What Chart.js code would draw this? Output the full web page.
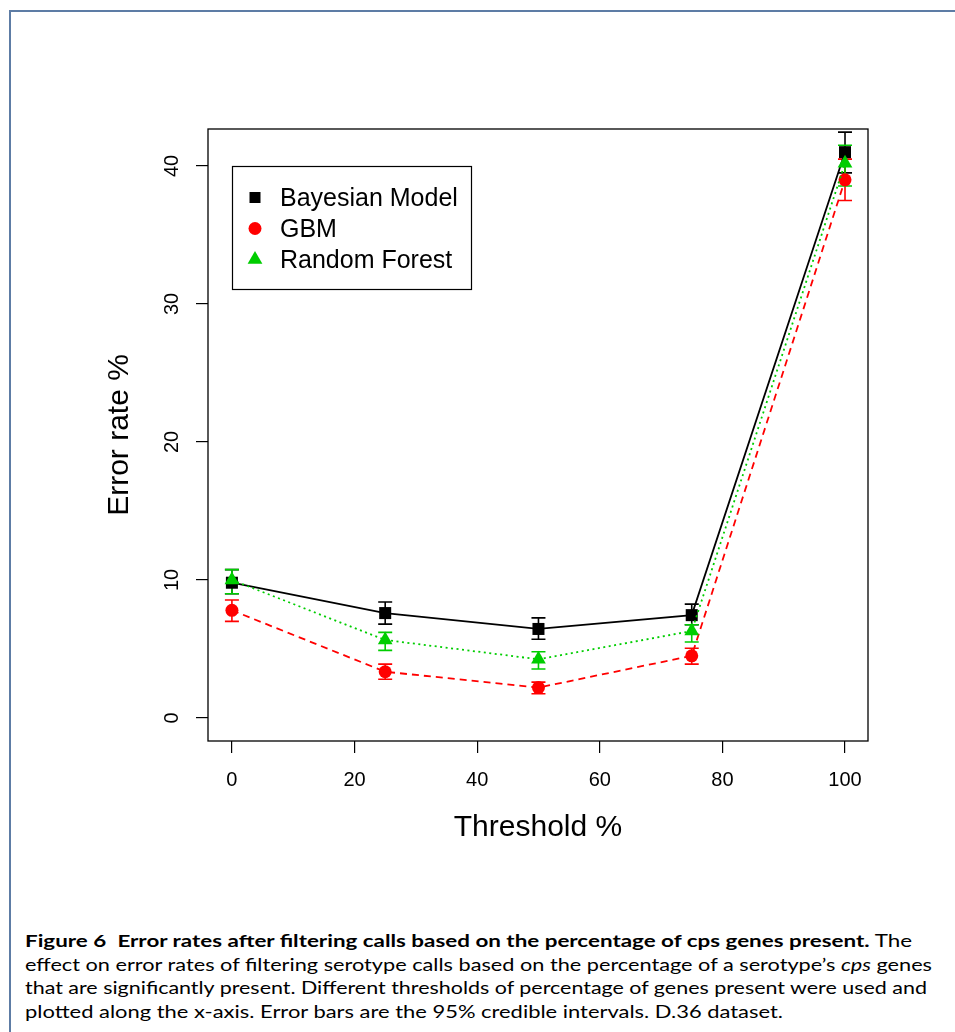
<!DOCTYPE html>
<html>
<head>
<meta charset="utf-8">
<script src="https://cdn.jsdelivr.net/npm/chart.js@4.4.1/dist/chart.umd.min.js"></script>
<style>
  html, body { margin: 0; padding: 0; background: #fff; }
  body { width: 955px; height: 1032px; position: relative; overflow: hidden; }
  #frame {
    position: absolute; left: 9px; top: 10px; width: 1000px; height: 1100px;
    border-left: 2px solid #5d7ca5; border-top: 2px solid #5d7ca5;
  }
  #wrap { position: absolute; left: 0; top: 0; width: 955px; height: 900px; }
  #caption {
    position: absolute; left: 25px; top: 929px;
    font-family: Lato, "Liberation Sans", sans-serif; font-size: 17.5px;
    line-height: 23.5px; color: #000;
  }
  .ln { display: block; width: max-content; white-space: nowrap; transform-origin: 0 0; }
</style>
</head>
<body>
<div id="frame"></div>
<div id="wrap"><canvas id="errChart" width="955" height="900"></canvas></div>
<div id="caption">
  <span class="ln" data-w="887"><b>Figure 6&ensp;Error rates after filtering calls based on the percentage of cps genes present.</b> The</span>
  <span class="ln" data-w="907">effect on error rates of filtering serotype calls based on the percentage of a serotype’s <i>cps</i> genes</span>
  <span class="ln" data-w="902">that are significantly present. Different thresholds of percentage of genes present were used and</span>
  <span class="ln" data-w="758">plotted along the x-axis. Error bars are the 95% credible intervals. D.36 dataset.</span>
</div>
<script>
// data
const thresholds = [0, 25, 50, 75, 100];
const seriesNames = ["Bayesian Model", "GBM", "Random Forest"];

const bayesRate = [9.8, 7.6, 6.45, 7.45, 41.0];
const bayesLow  = [9.0, 6.8, 5.7, 6.75, 39.5];
const bayesHigh = [10.75, 8.4, 7.25, 8.25, 42.45];

const gbmRate = [7.8, 3.35, 2.2, 4.5, 39.0];
const gbmLow  = [7.0, 2.8, 1.75, 3.9, 37.5];
const gbmHigh = [8.55, 3.9, 2.6, 5.05, 40.5];

const rfRate = [10.0, 5.65, 4.25, 6.3, 40.2];
const rfLow  = [9.0, 4.9, 3.55, 5.5, 38.55];
const rfHigh = [10.75, 6.2, 4.8, 6.75, 41.5];

const xTicks = [0, 20, 40, 60, 80, 100];
const yTicks = [0, 10, 20, 30, 40];

const FONT = '"Liberation Sans", Arial, Helvetica, sans-serif';

function points(vals) {
    return thresholds.map((x, i) => ({ x: x, y: vals[i] }));
}

// error bars drawn through the scales
const errorBars = {
    id: "errorBars",
    beforeDatasetsDraw(chart) {
        const ctx = chart.ctx;
        const xs = chart.scales.x, ys = chart.scales.y;
        chart.data.datasets.forEach(ds => {
            ctx.save();
            ctx.strokeStyle = ds.borderColor;
            ctx.lineWidth = 1.6;
            ctx.setLineDash([]);
            thresholds.forEach((t, i) => {
                const px = xs.getPixelForValue(t);
                const lo = ys.getPixelForValue(ds.errLow[i]);
                const hi = ys.getPixelForValue(ds.errHigh[i]);
                ctx.beginPath();
                ctx.moveTo(px, lo); ctx.lineTo(px, hi);
                ctx.moveTo(px - 7, lo); ctx.lineTo(px + 7, lo);
                ctx.moveTo(px - 7, hi); ctx.lineTo(px + 7, hi);
                ctx.stroke();
            });
            ctx.restore();
        });
    }
};

// R style box, rotated y tick labels and legend
const rFrame = {
    id: "rFrame",
    afterDraw(chart) {
        const ctx = chart.ctx;
        const a = chart.chartArea;
        const ys = chart.scales.y;
        ctx.save();
        ctx.strokeStyle = "#000";
        ctx.lineWidth = 1.3;
        ctx.strokeRect(a.left, a.top, a.right - a.left, a.bottom - a.top);

        ctx.fillStyle = "#000";
        ctx.font = "20px " + FONT;
        ctx.textAlign = "center";
        ctx.textBaseline = "alphabetic";
        yTicks.forEach(v => {
            ctx.save();
            ctx.translate(a.left - 30, ys.getPixelForValue(v));
            ctx.rotate(-Math.PI / 2);
            ctx.fillText(String(v), 0, 0);
            ctx.restore();
        });

        // legend
        ctx.lineWidth = 1.2;
        ctx.strokeRect(232.5, 166.5, 239, 123);
        ctx.font = "25px " + FONT;
        ctx.textAlign = "left";
        chart.data.datasets.forEach((ds, i) => {
            const cx = 255, cy = 197.5 + 31 * i;
            ctx.fillStyle = ds.pointBackgroundColor;
            ctx.beginPath();
            if (ds.pointStyle === "rect") {
                ctx.rect(cx - 5.5, cy - 5.5, 11, 11);
            } else if (ds.pointStyle === "circle") {
                ctx.arc(cx, cy, 6.5, 0, Math.PI * 2);
            } else {
                const r = 8.5;
                ctx.moveTo(cx, cy - r);
                ctx.lineTo(cx + r * 0.866, cy + r / 2);
                ctx.lineTo(cx - r * 0.866, cy + r / 2);
                ctx.closePath();
            }
            ctx.fill();
            ctx.fillStyle = "#000";
            ctx.fillText(seriesNames[i], 280, cy + 8.5);
        });
        ctx.restore();
    }
};

const ctx = document.getElementById("errChart").getContext("2d");
new Chart(ctx, {
    type: "line",
    data: {
        datasets: [
            {
                label: seriesNames[0], data: points(bayesRate),
                errLow: bayesLow, errHigh: bayesHigh,
                borderColor: "#000000", backgroundColor: "#000000",
                pointBackgroundColor: "#000000", pointBorderColor: "#000000",
                borderWidth: 1.8, pointStyle: "rect", pointRadius: 8.5, pointBorderWidth: 0,
                order: 2
            },
            {
                label: seriesNames[1], data: points(gbmRate),
                errLow: gbmLow, errHigh: gbmHigh,
                borderColor: "#ff0000", backgroundColor: "#ff0000",
                pointBackgroundColor: "#ff0000", pointBorderColor: "#ff0000",
                borderWidth: 1.8, borderDash: [7, 5], pointStyle: "circle", pointRadius: 6.5, pointBorderWidth: 0,
                order: 1
            },
            {
                label: seriesNames[2], data: points(rfRate),
                errLow: rfLow, errHigh: rfHigh,
                borderColor: "#00cd00", backgroundColor: "#00cd00",
                pointBackgroundColor: "#00cd00", pointBorderColor: "#00cd00",
                borderWidth: 1.8, borderDash: [2, 3.5], pointStyle: "triangle", pointRadius: 8.5, pointBorderWidth: 0,
                order: 0
            }
        ]
    },
    options: {
        responsive: false,
        animation: false,
        devicePixelRatio: 1,
        layout: { padding: { left: 0, top: 129, right: 87, bottom: 0 } },
        plugins: { legend: { display: false }, tooltip: { enabled: false } },
        elements: { line: { tension: 0, fill: false } },
        scales: {
            x: {
                type: "linear", min: -3.9, max: 103.75,
                afterBuildTicks: s => { s.ticks = xTicks.map(v => ({ value: v })); },
                afterFit: s => { s.height = 159; },
                grid: { drawOnChartArea: false, drawTicks: true, tickLength: 12, color: "#000", lineWidth: 1.2 },
                border: { display: false },
                ticks: { color: "#000", font: { family: FONT, size: 20 }, padding: 15, maxRotation: 0, autoSkip: false },
                title: { display: true, text: "Threshold %", color: "#000", font: { family: FONT, size: 30 }, padding: { top: 0, bottom: 54 } }
            },
            y: {
                type: "linear", min: -1.67, max: 42.68,
                afterBuildTicks: s => { s.ticks = yTicks.map(v => ({ value: v })); },
                afterFit: s => { s.width = 208; },
                grid: { drawOnChartArea: false, drawTicks: true, tickLength: 12, color: "#000", lineWidth: 1.2 },
                border: { display: false },
                ticks: { display: false },
                title: { display: true, text: "Error rate %", color: "#000", font: { family: FONT, size: 30 }, padding: { top: 102, bottom: 0 } }
            }
        }
    },
    plugins: [errorBars, rFrame]
});

// fit caption lines to the widths in the figure
document.querySelectorAll("#caption .ln").forEach(el => {
    const w = el.getBoundingClientRect().width;
    el.style.transform = "scaleX(" + (parseFloat(el.dataset.w) / w) + ")";
});
</script>
</body>
</html>
